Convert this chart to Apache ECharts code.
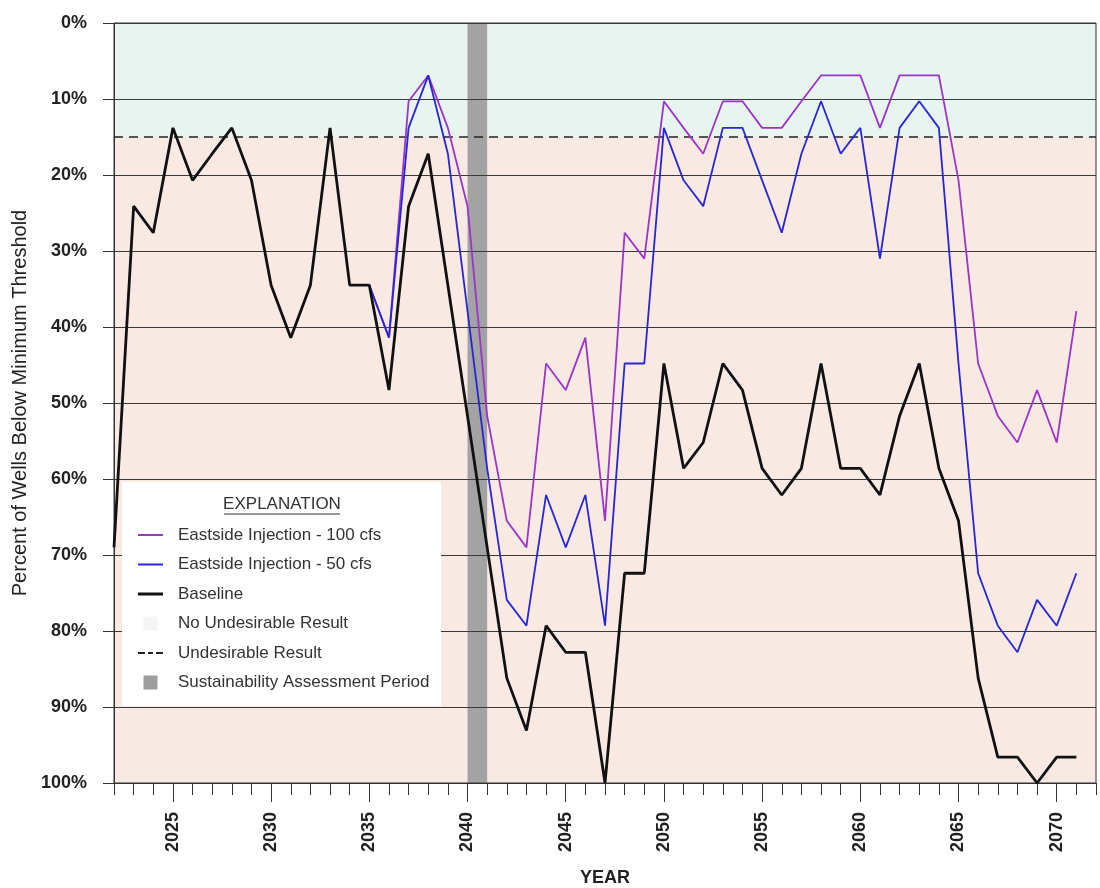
<!DOCTYPE html>
<html>
<head>
<meta charset="utf-8">
<script src="https://cdn.jsdelivr.net/npm/echarts@6/dist/echarts.min.js"></script>
<style>
  html, body { margin: 0; padding: 0; background: #fff; }
  #chart { width: 1100px; height: 888px; }
</style>
</head>
<body>
<div id="chart"></div>
<script>
// years on the x axis
var years = [2022, 2023, 2024, 2025, 2026, 2027, 2028, 2029, 2030, 2031,
  2032, 2033, 2034, 2035, 2036, 2037, 2038, 2039, 2040, 2041,
  2042, 2043, 2044, 2045, 2046, 2047, 2048, 2049, 2050, 2051,
  2052, 2053, 2054, 2055, 2056, 2057, 2058, 2059, 2060, 2061,
  2062, 2063, 2064, 2065, 2066, 2067, 2068, 2069, 2070, 2071];

// percent of wells below minimum threshold, 2022-2071
var baseline = [69, 24.1, 27.6, 13.8, 20.7, 17.2, 13.8, 20.7, 34.5, 41.4,
  34.5, 13.8, 34.5, 34.5, 48.3, 24.1, 17.2, 34.5, 51.7, 69,
  86.2, 93.1, 79.3, 82.8, 82.8, 100, 72.4, 72.4, 44.8, 58.6,
  55.2, 44.8, 48.3, 58.6, 62.1, 58.6, 44.8, 58.6, 58.6, 62.1,
  51.7, 44.8, 58.6, 65.5, 86.2, 96.6, 96.6, 100, 96.6, 96.6];

// injection scenarios leave the baseline in 2035
var injStartYear = 2035;
var inject100 = [34.5, 41.4, 10.3, 6.9, 13.8, 24.1, 51.7,
  65.5, 69, 44.8, 48.3, 41.4, 65.5, 27.6, 31, 10.3, 13.8,
  17.2, 10.3, 10.3, 13.8, 13.8, 10.3, 6.9, 6.9, 6.9, 13.8,
  6.9, 6.9, 6.9, 20.7, 44.8, 51.7, 55.2, 48.3, 55.2, 37.9];
var inject50 = [34.5, 41.4, 13.8, 6.9, 17.2, 37.9, 58.6,
  75.9, 79.3, 62.1, 69, 62.1, 79.3, 44.8, 44.8, 13.8, 20.7,
  24.1, 13.8, 13.8, 20.7, 27.6, 17.2, 10.3, 17.2, 13.8, 31,
  13.8, 10.3, 13.8, 44.8, 72.4, 79.3, 82.8, 75.9, 79.3, 72.4];

var threshold = 15;                 // undesirable result line
var assessPeriod = [2040, 2041];    // sustainability assessment period
var xMin = 2022, xMax = 2072;
var labelYears = [2025, 2030, 2035, 2040, 2045, 2050, 2055, 2060, 2065, 2070];
var yTicks = ['0%', '10%', '20%', '30%', '40%', '50%', '60%', '70%', '80%', '90%', '100%'];

var tickYears = [];
for (var t = xMin; t <= xMax; t++) tickYears.push(t);

function pairs(xs, vs) {
  return vs.map(function (v, i) { return [xs[i], v]; });
}
var injYears = years.slice(years.indexOf(injStartYear));

var FONT = 'Arial, "Liberation Sans", sans-serif';
// legend swatches: thin bars for lines, squares for areas
var ICON_LINE = 'path://M0,0L25,0L25,2L0,2Z';
var ICON_THICK = 'path://M0,0L25,0L25,3L0,3Z';
var ICON_DASH = 'path://M0,0L7,0L7,2L0,2Z M10,0L15,0L15,2L10,2Z M18,0L25,0L25,2L18,2Z';
var ICON_SQUARE = 'path://M0,0L10,0L10,10L0,10Z';

var chart = echarts.init(document.getElementById('chart'));

chart.setOption({
  animation: false,
  backgroundColor: '#ffffff',
  grid: {
    left: 114, right: 4, top: 23, bottom: 105,
    show: true, borderColor: '#333', borderWidth: 1,
    outerBoundsMode: 'none'
  },
  graphic: [
    { type: 'rect', z: 3, shape: { x: 122, y: 482, width: 319, height: 224 }, style: { fill: '#ffffff' } },
    { type: 'text', z: 4, style: { text: 'EXPLANATION', x: 282, y: 504, align: 'center', verticalAlign: 'middle',
      font: '17px ' + FONT, fill: '#333' } },
    { type: 'line', z: 4, shape: { x1: 224, y1: 514, x2: 340, y2: 514 }, style: { stroke: '#333', lineWidth: 1 } }
  ],
  legend: {
    orient: 'vertical',
    left: 133, top: 521,
    z: 6,
    itemWidth: 25, itemHeight: 14, itemGap: 11.5,
    textStyle: { fontFamily: FONT, fontSize: 17, color: '#333', lineHeight: 18, padding: [0, 0, 0, 10] },
    data: [
      { name: 'Eastside Injection - 100 cfs', icon: ICON_LINE, itemStyle: { color: '#9a35c9', borderWidth: 0 } },
      { name: 'Eastside Injection - 50 cfs', icon: ICON_LINE, itemStyle: { color: '#2626d4', borderWidth: 0 } },
      { name: 'Baseline', icon: ICON_THICK, itemStyle: { color: '#111', borderWidth: 0 } },
      { name: 'No Undesirable Result', icon: ICON_SQUARE, itemStyle: { color: '#f2f5f3', borderWidth: 0 } },
      { name: 'Undesirable Result', icon: ICON_DASH, itemStyle: { color: '#222', borderWidth: 0 } },
      { name: 'Sustainability Assessment Period', icon: ICON_SQUARE, itemStyle: { color: '#9d9d9d', borderWidth: 0 } }
    ]
  },
  xAxis: [{
    type: 'value', min: xMin, max: xMax, position: 'bottom',
    name: 'YEAR', nameLocation: 'middle', nameGap: 86,
    nameTextStyle: { fontFamily: FONT, fontSize: 18, fontWeight: 'bold', color: '#222' },
    axisLine: { show: true, onZero: false, lineStyle: { color: '#333', width: 1 } },
    axisTick: { show: true, customValues: tickYears, length: 12, lineStyle: { color: '#333' } },
    axisLabel: {
      customValues: labelYears, rotate: 90, margin: 29,
      fontFamily: FONT, fontSize: 18, fontWeight: 'bold', color: '#222',
      formatter: function (v) { return String(v); }
    },
    splitLine: { show: false }
  }, {
    type: 'value', min: xMin, max: xMax, position: 'bottom', offset: 0,
    axisLine: { show: false, onZero: false },
    axisTick: { show: true, customValues: labelYears, length: 19, lineStyle: { color: '#333' } },
    axisLabel: { show: false },
    splitLine: { show: false }
  }],
  yAxis: {
    type: 'value', inverse: true, min: 0, max: 100, interval: 10,
    name: 'Percent of Wells Below Minimum Threshold', nameLocation: 'middle', nameGap: 84,
    nameTextStyle: { fontFamily: FONT, fontSize: 20, color: '#222' },
    axisLine: { show: true, onZero: false, lineStyle: { color: '#333', width: 1 } },
    axisTick: { show: true, length: 11, lineStyle: { color: '#333' } },
    axisLabel: {
      margin: 27, fontFamily: FONT, fontSize: 18, fontWeight: 'bold', color: '#222',
      formatter: function (v) { return yTicks[Math.round(v / 10)]; }
    },
    splitLine: { show: true, lineStyle: { color: '#3a3a3a', width: 1 } }
  },
  series: [
    {
      name: 'No Undesirable Result', type: 'line', data: [], silent: true,
      markArea: {
        silent: true, z: -3,
        itemStyle: { color: '#e8f4ef' },
        data: [[{ yAxis: 0 }, { yAxis: threshold }]]
      }
    },
    {
      name: 'Undesirable Result', type: 'line', data: [], silent: true,
      markArea: {
        silent: true, z: -3,
        itemStyle: { color: '#f8e9e3' },
        data: [[{ yAxis: threshold }, { yAxis: 100 }]]
      },
      markLine: {
        silent: true, symbol: 'none', z: 1,
        label: { show: false },
        lineStyle: { color: '#222', width: 1.5, type: [9, 6] },
        data: [{ yAxis: threshold }]
      }
    },
    {
      name: 'Sustainability Assessment Period', type: 'line', data: [], silent: true,
      markArea: {
        silent: true, z: -2,
        itemStyle: { color: '#a3a3a3' },
        data: [[{ xAxis: assessPeriod[0] }, { xAxis: assessPeriod[1] }]]
      }
    },
    {
      name: 'Eastside Injection - 100 cfs', type: 'line',
      data: pairs(injYears, inject100),
      symbol: 'none', color: '#9a35c9',
      lineStyle: { color: '#9a35c9', width: 1.8 }
    },
    {
      name: 'Eastside Injection - 50 cfs', type: 'line',
      data: pairs(injYears, inject50),
      symbol: 'none', color: '#2626d4',
      lineStyle: { color: '#2626d4', width: 1.8 }
    },
    {
      name: 'Baseline', type: 'line',
      data: pairs(years, baseline),
      symbol: 'none', color: '#111',
      lineStyle: { color: '#111', width: 2.8 }
    }
  ]
});
</script>
</body>
</html>
